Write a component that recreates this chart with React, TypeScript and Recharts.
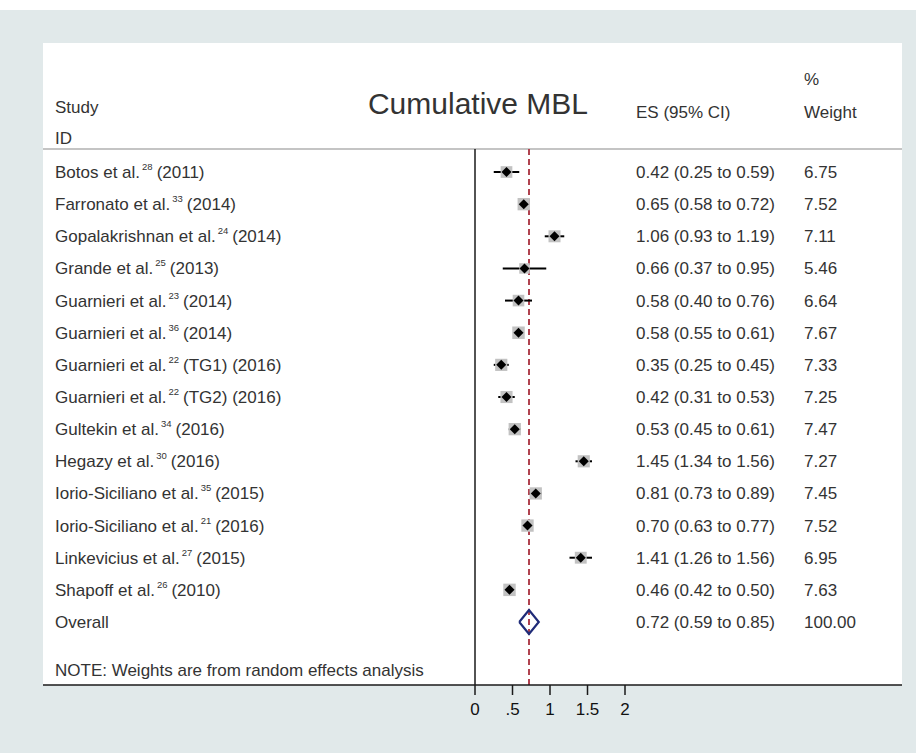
import React from "react";
import { ErrorBar, ReferenceLine, Scatter, ScatterChart, XAxis, YAxis } from "recharts";

const studyNames = [
  "Botos et al.",
  "Farronato et al.",
  "Gopalakrishnan et al.",
  "Grande et al.",
  "Guarnieri et al.",
  "Guarnieri et al.",
  "Guarnieri et al.",
  "Guarnieri et al.",
  "Gultekin et al.",
  "Hegazy et al.",
  "Iorio-Siciliano et al.",
  "Iorio-Siciliano et al.",
  "Linkevicius et al.",
  "Shapoff et al.",
];
const studyRefs = ["28", "33", "24", "25", "23", "36", "22", "22", "34", "30", "35", "21", "27", "26"];
const studySuffix = [
  "(2011)", "(2014)", "(2014)", "(2013)", "(2014)", "(2014)", "(TG1) (2016)",
  "(TG2) (2016)", "(2016)", "(2016)", "(2015)", "(2016)", "(2015)", "(2010)",
];
const effectSizes = [0.42, 0.65, 1.06, 0.66, 0.58, 0.58, 0.35, 0.42, 0.53, 1.45, 0.81, 0.7, 1.41, 0.46];
const ciLow = [0.25, 0.58, 0.93, 0.37, 0.4, 0.55, 0.25, 0.31, 0.45, 1.34, 0.73, 0.63, 1.26, 0.42];
const ciHigh = [0.59, 0.72, 1.19, 0.95, 0.76, 0.61, 0.45, 0.53, 0.61, 1.56, 0.89, 0.77, 1.56, 0.5];
const weights = [6.75, 7.52, 7.11, 5.46, 6.64, 7.67, 7.33, 7.25, 7.47, 7.27, 7.45, 7.52, 6.95, 7.63];

const overallES = 0.72;
const overallLow = 0.59;
const overallHigh = 0.85;
const overallWeight = "100.00";

const xTicks = [0, 0.5, 1, 1.5, 2];
const noteText = "NOTE: Weights are from random effects analysis";

const FONT = "'Liberation Sans', Arial, Helvetica, sans-serif";
const TEXT = "#333";
const overallRow = studyNames.length;
const noteRow = overallRow + 1.5;
const yMin = -0.716;
const yMax = 15.96;
const xMin = -5.76;
const xMax = 5.6933;
const diamondHalf = 0.373;

const studyPoints = effectSizes.map((es, i) => ({
  x: es,
  y: i,
  w: weights[i],
  err: [es - ciLow[i], ciHigh[i] - es],
}));

const overallOutline = [
  { x: overallLow, y: overallRow },
  { x: overallES, y: overallRow - diamondHalf },
  { x: overallHigh, y: overallRow },
  { x: overallES, y: overallRow + diamondHalf },
  { x: overallLow, y: overallRow },
];

const fmtCI = (es: number, lo: number, hi: number) =>
  `${es.toFixed(2)} (${lo.toFixed(2)} to ${hi.toFixed(2)})`;

const COL_STUDY = 55;
const COL_ES = 636;
const COL_W = 804;
const FS = 17;

function RowTick(props: any) {
  const { y, payload } = props;
  const r = payload.value;
  const common = { fontFamily: FONT, fontSize: FS, fill: TEXT, dy: "0.35em" };
  if (r === noteRow) {
    return (
      <text x={COL_STUDY} y={y} {...common}>
        {noteText}
      </text>
    );
  }
  if (r === overallRow) {
    return (
      <g>
        <text x={COL_STUDY} y={y} {...common}>Overall</text>
        <text x={COL_ES} y={y} {...common}>{fmtCI(overallES, overallLow, overallHigh)}</text>
        <text x={COL_W} y={y} {...common}>{overallWeight}</text>
      </g>
    );
  }
  const i = r as number;
  return (
    <g>
      <text x={COL_STUDY} y={y} {...common}>
        {studyNames[i]}
        <tspan fontSize={9.5} dx={2} dy={-8}>{studyRefs[i]}</tspan>
        <tspan dx={4} dy={8}>{studySuffix[i]}</tspan>
      </text>
      <text x={COL_ES} y={y} {...common}>{fmtCI(effectSizes[i], ciLow[i], ciHigh[i])}</text>
      <text x={COL_W} y={y} {...common}>{weights[i].toFixed(2)}</text>
    </g>
  );
}

const WeightBox = (props: any) => {
  const { cx, cy, payload } = props;
  const s = 4.5 * Math.sqrt(payload.w);
  return <rect x={cx - s / 2} y={cy - s / 2} width={s} height={s} fill="#c2c2c2" />;
};

const PointDiamond = (props: any) => {
  const { cx, cy } = props;
  const h = 5;
  return <polygon points={`${cx - h},${cy} ${cx},${cy - h} ${cx + h},${cy} ${cx},${cy + h}`} fill="#000" />;
};

const Nothing = () => <g />;

const tickRows = [...studyNames.map((_, i) => i), overallRow, noteRow];

export default function App() {
  return (
    <div style={{ position: "absolute", left: 0, top: 0, width: 916, height: 753, background: "#fff", overflow: "hidden" }}>
      <div style={{ position: "absolute", left: 0, top: 10, width: 916, height: 743, background: "#e1e9ea" }} />
      <div style={{ position: "absolute", left: 43, top: 43, width: 859, height: 642, background: "#fff" }} />
      <svg width={916} height={150} style={{ position: "absolute", left: 0, top: 0 }}>
        <g fontFamily={FONT} fill={TEXT} fontSize={FS}>
          <text x={COL_STUDY} y={107} dy="0.35em">Study</text>
          <text x={COL_STUDY} y={138} dy="0.35em">ID</text>
          <text x={478} y={114} fontSize={30} textAnchor="middle">Cumulative MBL</text>
          <text x={COL_ES} y={112} dy="0.35em">ES (95% CI)</text>
          <text x={COL_W} y={79} dy="0.35em">%</text>
          <text x={COL_W} y={112} dy="0.35em">Weight</text>
        </g>
      </svg>
      <div style={{ position: "absolute", left: 0, top: 0 }}>
        <ScatterChart width={916} height={753} margin={{ top: 149, right: 14, bottom: 38, left: 42 }}>
          <XAxis
            type="number"
            dataKey="x"
            domain={[xMin, xMax]}
            allowDataOverflow
            ticks={xTicks}
            interval={0}
            height={30}
            tickSize={10}
            tickMargin={8}
            stroke="#1a1a1a"
            axisLine={{ stroke: "#1a1a1a", strokeWidth: 1.5 }}
            tickLine={{ stroke: "#1a1a1a", strokeWidth: 1.5 }}
            tick={{ fill: "#111", fontSize: 17, fontFamily: FONT }}
            tickFormatter={(v: number) => (v === 0.5 ? ".5" : String(v))}
          />
          <YAxis
            type="number"
            dataKey="y"
            domain={[yMin, yMax]}
            allowDataOverflow
            reversed
            ticks={tickRows}
            interval={0}
            width={1}
            axisLine={false}
            tickLine={false}
            tick={<RowTick />}
          />
          <ReferenceLine y={yMin} stroke="#b0b0b0" strokeWidth={1.5} />
          <ReferenceLine x={0} stroke="#1a1a1a" strokeWidth={1.5} />
          <ReferenceLine x={overallES} stroke="#b0424f" strokeWidth={2} strokeDasharray="6 4" />
          <Scatter data={studyPoints} shape={<WeightBox />} isAnimationActive={false} />
          <Scatter data={studyPoints} shape={<PointDiamond />} isAnimationActive={false}>
            <ErrorBar dataKey="err" direction="x" width={0} stroke="#000" strokeWidth={2} />
          </Scatter>
          <Scatter
            data={overallOutline}
            shape={<Nothing />}
            line={{ stroke: "#1f2b78", strokeWidth: 2.2 }}
            lineType="joint"
            isAnimationActive={false}
          />
        </ScatterChart>
      </div>
    </div>
  );
}
